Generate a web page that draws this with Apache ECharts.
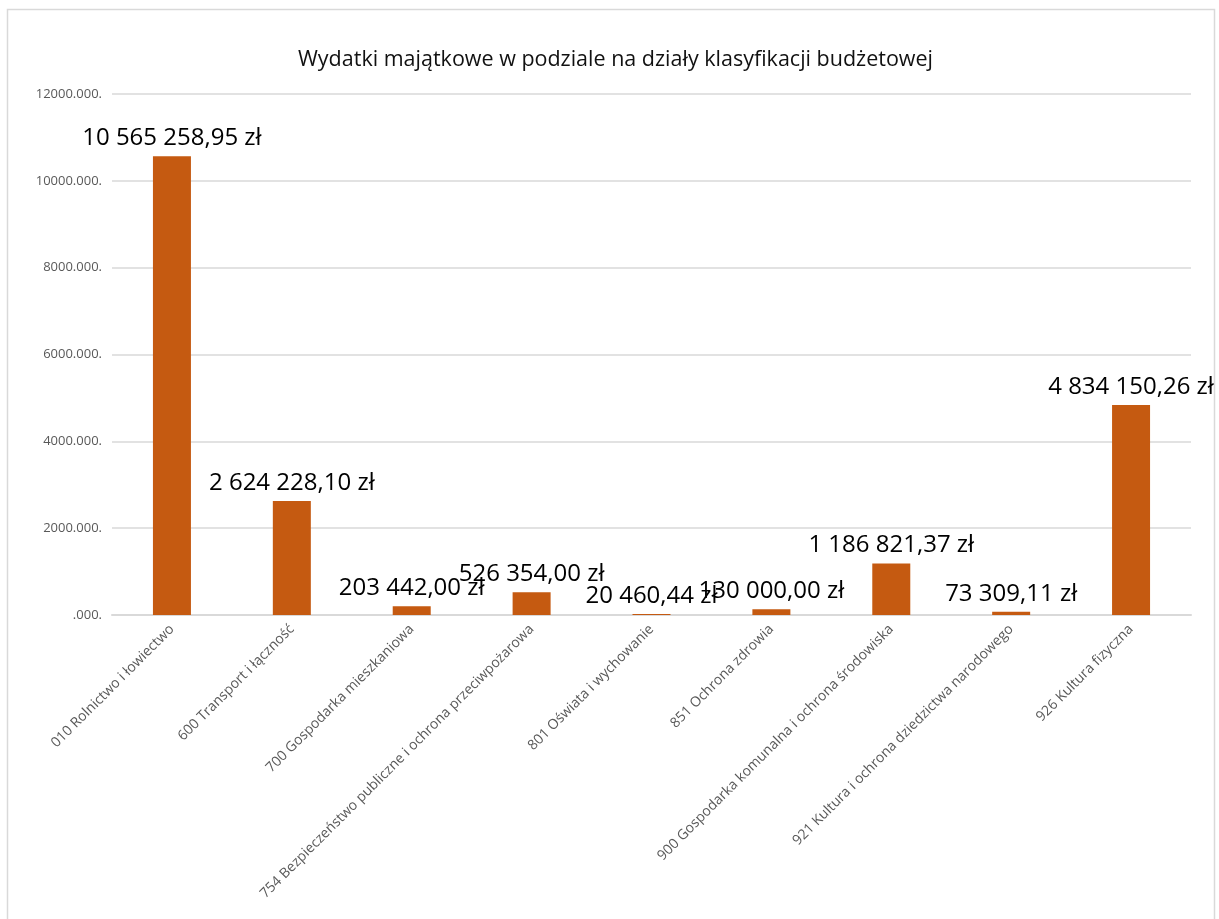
<!DOCTYPE html>
<html>
<head>
<meta charset="utf-8">
<script src="https://cdn.jsdelivr.net/npm/echarts@6/dist/echarts.min.js"></script>
<style>html,body{margin:0;padding:0;background:#fff;}#c{width:1219px;height:919px;}</style>
</head>
<body>
<div id="c"></div>
<script>
const categories = [
  '010 Rolnictwo i łowiectwo',
  '600 Transport i łączność',
  '700 Gospodarka mieszkaniowa',
  '754 Bezpieczeństwo publiczne i ochrona przeciwpożarowa',
  '801 Oświata i wychowanie',
  '851 Ochrona zdrowia',
  '900 Gospodarka komunalna i ochrona środowiska',
  '921 Kultura i ochrona dziedzictwa narodowego',
  '926 Kultura fizyczna'
];
const values = [10565258.95, 2624228.10, 203442.00, 526354.00, 20460.44, 130000.00, 1186821.37, 73309.11, 4834150.26];
const titleText = 'Wydatki majątkowe w podziale na działy klasyfikacji budżetowej';
const yMin = 0, yMax = 12000000, yStep = 2000000;

function fmtZl(v) {
  const parts = v.toFixed(2).split('.');
  const intPart = parts[0].replace(/\B(?=(\d{3})+(?!\d))/g, ' ');
  return intPart + ',' + parts[1] + ' zł';
}
function fmtAxis(v) {
  return (v === 0 ? '' : String(v / 1000)) + '.000.';
}

const chart = echarts.init(document.getElementById('c'), null, {renderer: 'canvas'});
chart.setOption({
  backgroundColor: '#fff',
  animation: false,
  title: {
    text: titleText,
    left: 293,
    top: 44,
    textStyle: {fontFamily: 'Open Sans', fontSize: 21.5, fontWeight: 'normal', color: '#111'}
  },
  graphic: [{
    type: 'rect',
    shape: {x: 7.5, y: 9.5, width: 1207, height: 930},
    style: {fill: 'none', stroke: '#d9d9d9', lineWidth: 1.5},
    silent: true
  }],
  grid: {left: 112, right: 28, top: 94, bottom: 304, containLabel: false},
  xAxis: {
    type: 'category',
    data: categories,
    axisLine: {show: true, lineStyle: {color: '#d9d9d9', width: 2}},
    axisTick: {show: false},
    axisLabel: {
      rotate: 45, interval: 0, margin: 12,
      fontFamily: 'Open Sans', fontSize: 14, color: '#595959'
    }
  },
  yAxis: {
    type: 'value',
    min: yMin, max: yMax, interval: yStep,
    axisLine: {show: false},
    axisTick: {show: false},
    splitLine: {lineStyle: {color: '#d9d9d9', width: 1.5}},
    axisLabel: {
      formatter: fmtAxis, margin: 10,
      fontFamily: 'Open Sans', fontSize: 13, color: '#595959'
    }
  },
  series: [{
    type: 'bar',
    data: values,
    barWidth: 38,
    itemStyle: {color: '#C55A11'},
    label: {
      show: true, position: 'top', distance: 6,
      formatter: p => fmtZl(p.value),
      fontFamily: 'Open Sans', fontSize: 24, color: '#000'
    }
  }]
});
</script>
</body>
</html>
